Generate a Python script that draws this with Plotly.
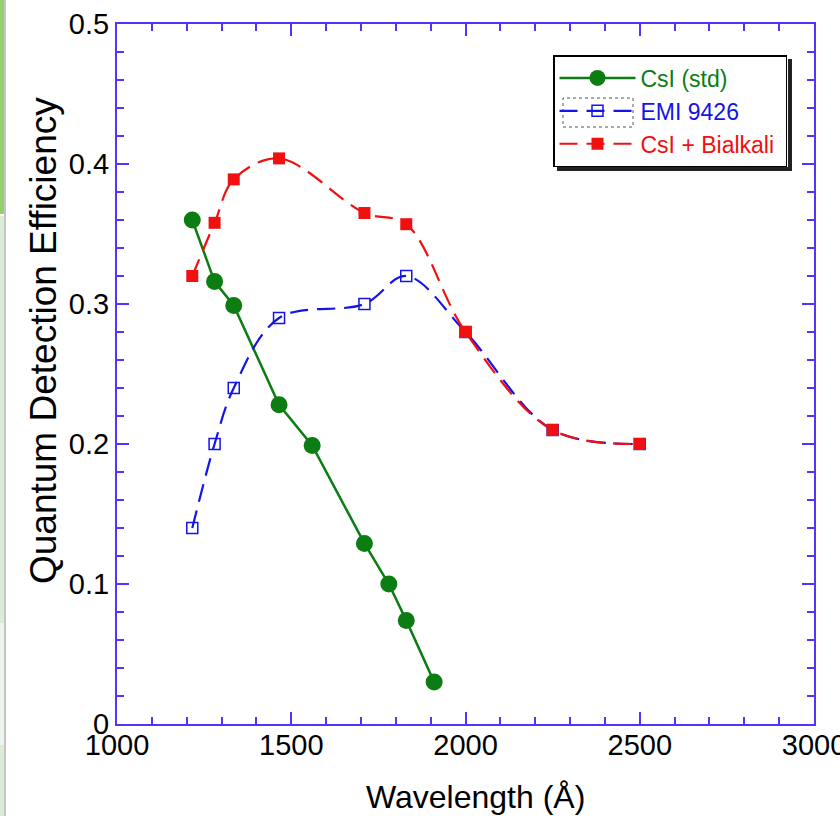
import plotly.graph_objects as go

# ---------------- data ----------------
csi_wl = [1216, 1280, 1335, 1465, 1560, 1710, 1780, 1830, 1910]
csi_qe = [0.360, 0.316, 0.299, 0.228, 0.199, 0.129, 0.100, 0.074, 0.030]

emi_wl = [1216, 1280, 1335, 1465, 1710, 1830, 2000, 2250, 2500]
emi_qe = [0.140, 0.200, 0.240, 0.290, 0.300, 0.320, 0.280, 0.210, 0.200]

bia_wl = [1216, 1280, 1335, 1465, 1710, 1830, 2000, 2250, 2500]
bia_qe = [0.320, 0.358, 0.389, 0.404, 0.365, 0.357, 0.280, 0.210, 0.200]

names = ["CsI (std)", "EMI 9426", "CsI + Bialkali"]
x_title = "Wavelength (Å)"
y_title = "Quantum Detection Efficiency"

GREEN = "#0b7d12"
BLUE = "#1414e6"
RED = "#f01010"
AXIS = "#5533ff"
FONT = "Liberation Sans, Arial, Helvetica, sans-serif"

W, H = 840, 816
L, R, T, B = 117, 26, 24, 92
PW, PH = W - L - R, H - T - B


def px(x):
    return (x - L) / PW


def py(y):
    return (H - B - y) / PH


fig = go.Figure()

fig.add_trace(go.Scatter(
    x=csi_wl, y=csi_qe, mode="lines+markers",
    name=f'<span style="color:{GREEN}">{names[0]}\u00a0</span>',
    line=dict(color=GREEN, width=2.5),
    marker=dict(symbol="circle", size=17, color=GREEN),
))
fig.add_trace(go.Scatter(
    x=emi_wl, y=emi_qe, mode="lines+markers",
    name=f'<span style="color:{BLUE}">{names[1]}\u00a0</span>',
    line=dict(color=BLUE, width=2.2, dash="18px,9px", shape="spline", smoothing=1.0),
    marker=dict(symbol="square-open", size=11, color=BLUE, line=dict(width=1.5, color=BLUE)),
))
fig.add_trace(go.Scatter(
    x=bia_wl, y=bia_qe, mode="lines+markers",
    name=f'<span style="color:{RED}">{names[2]}\u00a0</span>',
    line=dict(color=RED, width=2.2, dash="18px,9px", shape="spline", smoothing=1.0),
    marker=dict(symbol="square", size=12, color=RED),
))

axis_common = dict(
    showgrid=False, zeroline=False, showline=True, linecolor=AXIS, linewidth=2,
    mirror="allticks", ticks="inside", tickcolor=AXIS, tickwidth=2, ticklen=12,
    tickfont=dict(family=FONT, size=29, color="black"),
    automargin=False, ticklabeloverflow="allow",
)

fig.update_xaxes(
    range=[1000, 3000], dtick=500, tick0=1000, ticklabelstandoff=-6,
    minor=dict(dtick=100, ticks="inside", ticklen=7, tickcolor=AXIS, tickwidth=2, showgrid=False),
    **axis_common,
)
fig.update_yaxes(
    range=[0, 0.5], dtick=0.1, tick0=0,
    minor=dict(dtick=0.02, ticks="inside", ticklen=7, tickcolor=AXIS, tickwidth=2, showgrid=False),
    **axis_common,
)

annotations = [
    dict(text=x_title, xref="paper", yref="paper", x=px(476), y=py(797),
         xanchor="center", yanchor="middle", showarrow=False,
         font=dict(family=FONT, size=32, color="black")),
    dict(text=y_title, xref="paper", yref="paper", x=px(43), y=py(341),
         xanchor="center", yanchor="middle", showarrow=False, textangle=-90,
         font=dict(family=FONT, size=37, color="black")),
]

shapes = []
# legend drop shadow
shapes.append(dict(type="rect", xref="paper", yref="paper",
                   x0=px(557), x1=px(792), y0=py(171), y1=py(59),
                   fillcolor="#222222", line=dict(width=0), layer="above"))
# legend background (legend itself is transparent so the dotted box shows)
shapes.append(dict(type="rect", xref="paper", yref="paper",
                   x0=px(553), x1=px(788), y0=py(167), y1=py(55),
                   fillcolor="white", line=dict(width=0), layer="above"))
# dotted selection box around the EMI legend sample
shapes.append(dict(type="rect", xref="paper", yref="paper",
                   x0=px(563), x1=px(633), y0=py(127), y1=py(98),
                   line=dict(color="#555555", width=1, dash="dot"), layer="above"))
# left-edge slide strip
shapes.append(dict(type="rect", xref="paper", yref="paper",
                   x0=px(0), x1=px(4), y0=py(0), y1=py(214),
                   fillcolor="#93cf6d", line=dict(width=0)))
shapes.append(dict(type="rect", xref="paper", yref="paper",
                   x0=px(0), x1=px(4), y0=py(216), y1=py(816),
                   fillcolor="#dcebd3", line=dict(width=0)))
shapes.append(dict(type="rect", xref="paper", yref="paper",
                   x0=px(0), x1=px(4), y0=py(623), y1=py(745),
                   fillcolor="#eef5ec", line=dict(width=0)))
shapes.append(dict(type="line", xref="paper", yref="paper",
                   x0=px(5), x1=px(5), y0=py(0), y1=py(816),
                   line=dict(color="#c4c4c4", width=2)))

fig.update_layout(
    width=W, height=H,
    margin=dict(l=L, r=R, t=T, b=B, autoexpand=False),
    paper_bgcolor="white", plot_bgcolor="white",
    font=dict(family=FONT, color="black"),
    showlegend=True,
    legend=dict(
        x=px(553), y=py(55), xanchor="left", yanchor="top",
        bgcolor="rgba(0,0,0,0)", bordercolor="black", borderwidth=1.5,
        font=dict(family=FONT, size=23),
        itemwidth=76, tracegroupgap=0,
        traceorder="normal",
    ),
    annotations=annotations,
    shapes=shapes,
)

fig.write_html(
    "out.html",
    config={"displayModeBar": False},
    post_script="document.body.style.margin='0px';document.body.style.overflow='hidden';",
)
